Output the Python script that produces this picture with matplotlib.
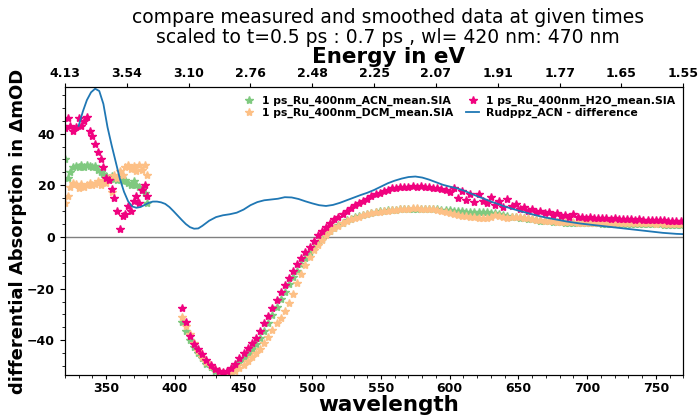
import numpy as np
import matplotlib
matplotlib.use("Agg")
import matplotlib.pyplot as plt
from matplotlib.ticker import MultipleLocator

# wavelength grids of the measured spectra (nm)
wl_uv = np.arange(320, 381, 2)
wl_vis = np.arange(405, 769, 3)

# 1 ps_Ru_400nm_ACN_mean.SIA
acn_uv = [30, 23, 25, 27, 27.5, 27, 28, 27, 28, 27.5,
          27, 27.5, 26, 25, 24.5, 23.5, 23, 23.5, 22.5, 22,
          22.5, 21.5, 22, 21, 20, 21.5, 20, 19.5, 18.5, 17, 13]
acn_vis = [-33, -36.5, -40, -42.5, -45, -47, -49, -50.5, -51.8, -52.5,
           -52.7, -52.3, -51.3, -50, -48.5, -47, -45.3, -43.5, -41.5, -39.3,
           -36.5, -33.5, -30.3, -27, -24, -21.2, -18.2, -15.5, -13, -10.5,
           -8.2, -6, -4, -2.3, -0.6, 1, 2.4, 3.6, 4.7, 5.6,
           6.4, 7.1, 7.7, 8.2, 8.6, 8.9, 9.3, 9.6, 9.9, 10.1,
           10.3, 10.4, 10.6, 10.7, 10.8, 10.9, 11, 11, 11, 11,
           11, 10.9, 10.8, 10.6, 10.5, 10.3, 10.2, 10, 9.9, 9.8,
           9.8, 9.7, 9.7, 9.6, 9.5, 9.3, 9.1, 8.8, 8.5, 8.2,
           7.9, 7.6, 7.4, 7.2, 7, 6.8, 6.5, 6.3, 6.1, 6,
           5.9, 5.8, 5.7, 5.6, 5.6, 5.5, 5.5, 5.4, 5.4, 5.3,
           5.3, 5.3, 5.2, 5.2, 5.2, 5.2, 5.1, 5.1, 5.1, 5.0,
           5.0, 5.0, 5.0, 4.9, 4.9, 4.9, 4.9, 4.8, 4.8, 4.8,
           4.8, 4.7]

# 1 ps_Ru_400nm_DCM_mean.SIA
dcm_uv = [13, 16, 19.5, 21, 20.5, 19, 20.5, 19.5, 20, 21,
          20, 20.5, 21.5, 20, 22, 21, 23, 17.5, 24, 23,
          25.5, 24, 27, 28, 26.5, 27.5, 25.5, 28, 26, 28, 24]
dcm_vis = [-31, -34.5, -37.5, -41, -44, -46.5, -48.5, -49.8, -51, -52,
           -52.6, -52.8, -52.5, -51.8, -50.8, -49.5, -48, -46.6, -45, -43.2,
           -41, -38.8, -36, -33.5, -31.5, -28.5, -25.5, -22, -18, -14.3,
           -10.8, -7.7, -5.2, -3, -1, 0.8, 2.2, 3.4, 4.4, 5.3,
           6.1, 6.8, 7.4, 7.9, 8.4, 8.8, 9.2, 9.5, 9.8, 10.0,
           10.2, 10.4, 10.6, 10.8, 10.9, 11.0, 11.1, 11.1, 11.0, 11.0,
           10.9, 10.7, 10.4, 10.0, 9.6, 9.3, 9.0, 8.6, 8.3, 8.0,
           7.9, 7.7, 7.5, 7.4, 7.5, 7.8, 8.4, 8.0, 7.6, 7.4,
           7.6, 7.9, 7.7, 7.5, 7.2, 6.9, 6.7, 6.5, 6.3, 6.1,
           6.0, 5.9, 5.8, 5.8, 5.7, 5.7, 5.6, 5.6, 5.6, 5.6,
           5.5, 5.6, 5.5, 5.5, 5.5, 5.4, 5.5, 5.4, 5.4, 5.4,
           5.3, 5.4, 5.3, 5.3, 5.3, 5.2, 5.3, 5.2, 5.2, 5.2,
           5.1, 5.1]

# 1 ps_Ru_400nm_H2O_mean.SIA
h2o_uv = [42, 46, 43, 41, 42.5, 46, 43, 45, 46.5, 41,
          39, 36, 33, 30, 27, 23, 22, 18.5, 15, 10,
          3, 8, 9, 12, 10, 14, 16, 13, 18, 20, 16]
h2o_vis = [-27.5, -33, -38.5, -41.5, -43.5, -45.5, -47.5, -49.5, -51, -52,
           -52.3, -51.8, -50.8, -49, -47, -44.8, -43, -41.2, -39, -36.5,
           -33.5, -30.5, -27.5, -24.3, -21.3, -18.5, -16, -13.3, -10.5, -8,
           -5.8, -3.8, -1.5, 0.8, 2.5, 3.9, 5.4, 6.8, 7.9, 9,
           10.2, 11.2, 12.2, 13.1, 14, 14.8, 15.7, 16.5, 17.2, 17.8,
           18.3, 18.8, 19.1, 19.3, 19.4, 19.5, 19.7, 19.5, 19.6, 19.4,
           19.3, 19.1, 18.9, 18.6, 18.2, 17.5, 19.0, 15.0, 17.8, 14.5,
           16.8, 13.5, 16.5, 14.0, 13.0, 15.5, 12.5, 13.8, 11.5, 14.8,
           11.8, 12.8, 10.8, 11.5, 10.2, 11.0, 9.6, 10.0, 9.2, 9.8,
           8.6, 9.4, 8.2, 8.6, 7.9, 8.8, 7.6, 7.9, 7.4, 7.6,
           7.3, 7.5, 7.2, 7.3, 7.0, 7.2, 6.9, 7.0, 6.8, 6.9,
           6.7, 6.8, 6.6, 6.6, 6.5, 6.6, 6.4, 6.4, 6.3, 6.3,
           6.2, 6.1]

# Rudppz_ACN - difference
wl_diff = np.concatenate([np.arange(330, 420, 3), np.arange(420, 771, 5)])
diff = [43.0, 48.5, 53.0, 56.0, 57.4, 56.5, 51.5, 42.5, 35.5, 29.0,
        22.5, 17.5, 13.8, 11.8, 11.3, 11.6, 12.4, 13.2, 13.7, 13.7,
        13.4, 12.8, 11.6, 10.0, 8.3, 6.6, 5.0, 3.8, 3.2, 3.3,
        4.3, 6.3, 7.7, 8.4, 8.8, 9.4, 10.6, 12.3, 13.5, 14.2,
        14.5, 14.8, 15.4, 15.3, 14.7, 13.8, 13.0, 12.3, 12.0, 12.4,
        13.2, 14.2, 15.2, 16.2, 17.1, 18.2, 19.5, 20.8, 21.8, 22.6,
        23.2, 23.4, 23.0, 22.2, 21.2, 20.2, 19.5, 18.9, 18.0, 16.9,
        15.8, 14.8, 13.7, 12.8, 11.8, 11.0, 10.2, 9.5, 8.8, 8.1,
        7.5, 7.0, 6.5, 6.0, 5.6, 5.2, 4.9, 4.6, 4.3, 4.0,
        3.7, 3.4, 3.1, 2.8, 2.5, 2.2, 1.9, 1.6, 1.4, 1.2,
        1.1]

energy_labels = ['4.13', '3.54', '3.10', '2.76', '2.48', '2.25',
                 '2.07', '1.91', '1.77', '1.65', '1.55']

series = [
    ('1 ps_Ru_400nm_ACN_mean.SIA', acn_uv, acn_vis, '#7fc97f'),
    ('1 ps_Ru_400nm_DCM_mean.SIA', dcm_uv, dcm_vis, '#fdc086'),
    ('1 ps_Ru_400nm_H2O_mean.SIA', h2o_uv, h2o_vis, '#f0027f'),
]

fig = plt.figure(figsize=(6.98, 4.15), dpi=100)
ax = fig.add_axes([0.093, 0.096, 0.886, 0.694])

handles = []
for name, uv, vis, col in series:
    h, = ax.plot(wl_uv, uv, ls='none', marker='*', ms=6, color=col, label=name)
    ax.plot(wl_vis, vis, ls='none', marker='*', ms=6, color=col)
    handles.append(h)
hd, = ax.plot(wl_diff, diff, color='#1f77b4', lw=1.3, label='Rudppz_ACN - difference')
handles.append(hd)

ax.axhline(0, color='gray', lw=1, zorder=0)
ax.set_xlim(320, 770)
ax.set_ylim(-53.5, 58)
ax.xaxis.set_minor_locator(MultipleLocator(10))
ax.yaxis.set_minor_locator(MultipleLocator(5))
ax.set_xticks(np.arange(350, 751, 50))
ax.set_yticks([-40, -20, 0, 20, 40])
for lab in ax.get_xticklabels() + ax.get_yticklabels():
    lab.set_fontweight('bold')
ax.tick_params(labelsize=9)
ax.tick_params(axis='x', which='major', length=3, pad=2)
ax.tick_params(axis='x', which='minor', length=2)
ax.set_xlabel('wavelength', fontsize=15.5, fontweight='bold', labelpad=0, x=0.523)
ax.set_ylabel('differential Absorption in ΔmOD', fontsize=13, fontweight='bold',
              labelpad=0)

ax2 = ax.twiny()
ax2.set_xlim(ax.get_xlim())
ax2.set_xticks(np.linspace(320, 770, 11))
ax2.set_xticklabels(energy_labels, fontweight='bold', fontsize=9)
ax2.tick_params(axis='x', length=3, pad=2)
ax2.set_xlabel('Energy in eV', fontsize=15.5, fontweight='bold', labelpad=3, x=0.523)
ax2.set_title('compare measured and smoothed data at given times\n'
              'scaled to t=0.5 ps : 0.7 ps , wl= 420 nm: 470 nm',
              fontsize=13.5, x=0.523, pad=0, linespacing=1.05)

ax.legend(handles=handles, ncol=2, loc='upper right', frameon=False,
          numpoints=1, prop={'weight': 'bold', 'size': 7.8}, handlelength=1.2,
          labelspacing=0.15, columnspacing=1.2, handletextpad=0.6, borderaxespad=0.4)

fig.savefig('out.png', dpi=100)
